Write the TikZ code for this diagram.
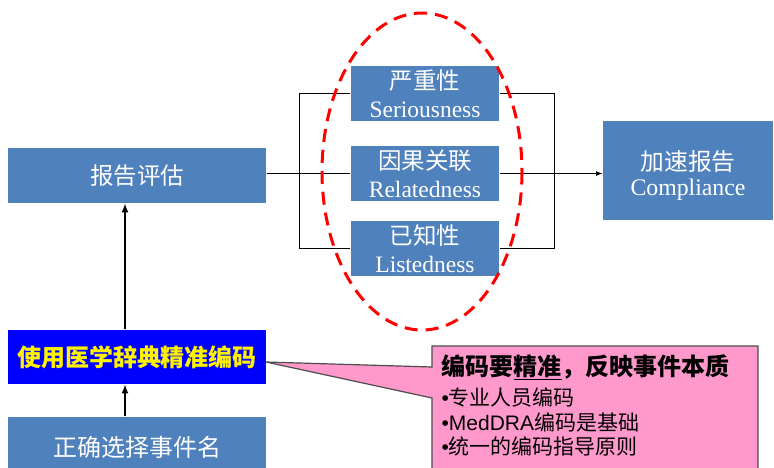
\documentclass[tikz,border=0pt]{standalone}
\usepackage{fontspec}
\setmainfont{Liberation Serif}
\setsansfont{Liberation Sans}
\newfontfamily\cjk{Noto Sans CJK SC}
\usetikzlibrary{arrows}

\definecolor{boxblue}{HTML}{4F81BD}
\definecolor{codeblue}{HTML}{0000FF}
\definecolor{notepink}{HTML}{FF99CC}

\begin{document}
\begin{tikzpicture}[x=1pt, y=-1pt, line width=1.2pt, >=latex,
  bluebox/.style={fill=boxblue, text=white, inner sep=0pt, minimum width=258pt, minimum height=55pt, font=\cjk\fontsize{23.5}{27}\selectfont},
  midbox/.style={fill=boxblue, text=white, inner sep=0pt, minimum width=148pt, minimum height=55pt, align=center, font=\fontsize{23.5}{28}\selectfont},
  noteline/.style={anchor=west, inner sep=0pt, font=\cjk\fontsize{21}{25}\selectfont}]

\useasboundingbox (0,0) rectangle (774,467);

% left column
\node[bluebox] (report) at (137,175.5) {报告评估};
\node[bluebox, fill=codeblue, text=yellow, minimum height=54pt, font=\cjk\bfseries\fontsize{24}{28}\selectfont] (coding) at (137,357) {使用医学辞典精准编码};
\node[bluebox, minimum height=60pt, font=\cjk\fontsize{24}{28}\selectfont] (eventname) at (137,447) {正确选择事件名};

\draw[->, line width=2pt] ([xshift=-12pt]eventname.north) -- ([xshift=-12pt]coding.south);
\draw[->, line width=2pt] ([xshift=-12pt]coding.north) -- ([xshift=-12pt]report.south);

% the three criteria
\node[midbox] (serious) at (425,93.5) {{\cjk 严重性}\\Seriousness};
\node[midbox] (related) at (425,173.5) {{\cjk 因果关联}\\Relatedness};
\node[midbox] (listed) at (425,248.5) {{\cjk 已知性}\\Listedness};

\node[midbox, minimum width=170pt, minimum height=99pt] (comply) at (688,170.5) {};
\node[midbox, fill=none, minimum height=0pt, font=\fontsize{23.8}{25}\selectfont] (complytext) at ([yshift=-5pt]comply.center) {{\cjk 加速报告}\\Compliance};

\draw (serious.west) -- ++(-51,0) |- (listed.west);
\draw (serious.east) -- ++(55,0) |- (listed.east);
\draw (related.west -| report.east) -- (related.west);
\draw[->] (related.east) -- (related.east -| comply.west);

\draw[red, line width=3pt, dash pattern=on 13pt off 8pt] (422,171.5) ellipse [x radius=100, y radius=158.5];

% note
\coordinate (tip) at (266,362);
\draw[fill=notepink, draw=black!70] (432,346) -- (758,346) -- (758,490) -- (432,490) -- (432,398) -- (tip) -- (432,367) -- cycle;

\node[noteline, font=\cjk\bfseries\fontsize{24}{28}\selectfont] (head) at (441,367) {编码要\underline{精准}，反映事件本质};
\node[noteline] (item1) at (441,397) {{\sffamily•}专业人员编码};
\node[noteline] (item2) at (441,422) {{\sffamily•MedDRA}编码是基础};
\node[noteline] (item3) at (441,446) {{\sffamily•}统一的编码指导原则};

\end{tikzpicture}
\end{document}
